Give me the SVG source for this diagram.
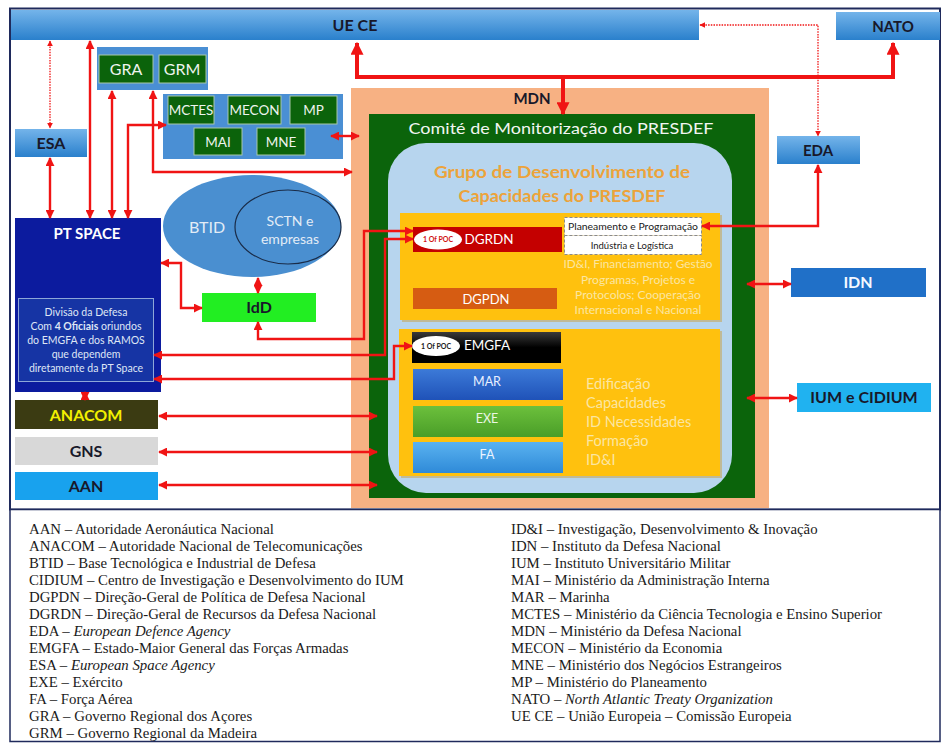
<svg xmlns="http://www.w3.org/2000/svg" width="942" height="745" viewBox="0 0 942 745">
<defs>
<linearGradient id="gBlue" x1="0" y1="0" x2="0" y2="1"><stop offset="0" stop-color="#74b4ea"/><stop offset="1" stop-color="#2a80cc"/></linearGradient>
<linearGradient id="gMar" x1="0" y1="0" x2="0" y2="1"><stop offset="0" stop-color="#3c7ad8"/><stop offset="1" stop-color="#1f52b8"/></linearGradient>
<linearGradient id="gExe" x1="0" y1="0" x2="0" y2="1"><stop offset="0" stop-color="#6cc03c"/><stop offset="1" stop-color="#4a9e28"/></linearGradient>
<linearGradient id="gFa" x1="0" y1="0" x2="0" y2="1"><stop offset="0" stop-color="#5ab2f0"/><stop offset="1" stop-color="#2e8ad8"/></linearGradient>
<linearGradient id="gBlack" x1="0" y1="0" x2="0" y2="1"><stop offset="0" stop-color="#3a3a3a"/><stop offset="0.5" stop-color="#000"/><stop offset="1" stop-color="#000"/></linearGradient>
<marker id="ah" viewBox="0 0 10 10" refX="9" refY="5" markerWidth="9" markerHeight="9" markerUnits="userSpaceOnUse" orient="auto-start-reverse"><path d="M0,0 L10,5 L0,10 z" fill="#f01414"/></marker>
<marker id="ahS" viewBox="0 0 10 10" refX="9" refY="5" markerWidth="6" markerHeight="6" markerUnits="userSpaceOnUse" orient="auto-start-reverse"><path d="M0,0 L10,5 L0,10 z" fill="#f01414"/></marker>
<marker id="ahB" viewBox="0 0 10 10" refX="9" refY="5" markerWidth="13" markerHeight="13" markerUnits="userSpaceOnUse" orient="auto-start-reverse"><path d="M0,0 L10,5 L0,10 z" fill="#f01414"/></marker>
</defs>
<style>
text{font-family:Lato,"Open Sans","Liberation Sans",sans-serif;}
.lbl{font-weight:bold;text-anchor:middle;fill:#18182a;}
.wt{text-anchor:middle;fill:#eef4ee;}
.gbox{fill:#0b630b;stroke:#a8c8a8;stroke-width:1;}
.con{fill:none;stroke:#f01414;stroke-width:2.4;marker-start:url(#ah);marker-end:url(#ah);}
.dot{fill:none;stroke:#f01414;stroke-width:1.3;stroke-dasharray:1.5 1.2;marker-start:url(#ahS);marker-end:url(#ahS);}
.thick{fill:none;stroke:#f01414;stroke-width:4;}
.leg{font-family:"Liberation Serif","Times New Roman",serif;font-size:14.8px;fill:#1a1a1a;}
.pale{fill:#fbe6a2;font-size:14.5px;}
.pale2{fill:#fbe6a2;font-size:12px;text-anchor:middle;}
</style>
<rect x="0" y="0" width="942" height="745" fill="#ffffff"/>
<rect id="frame" x="10" y="8.5" width="930" height="501" fill="#ffffff" stroke="#1f2a5c" stroke-width="2"/>
<rect id="legendframe" x="10" y="509.5" width="930" height="232" fill="#ffffff" stroke="#1f2a5c" stroke-width="1.5"/>

<g id="uece"><rect x="11" y="10" width="688" height="30" fill="url(#gBlue)"/><text class="lbl" x="355" y="31" font-size="16">UE CE</text></g>
<g id="nato"><rect x="836" y="12" width="104" height="28" fill="url(#gBlue)"/><text class="lbl" x="893" y="32" font-size="15">NATO</text></g>
<g id="esa"><rect x="15" y="129" width="72" height="28" fill="url(#gBlue)"/><text class="lbl" x="51" y="149" font-size="16">ESA</text></g>
<g id="eda"><rect x="777" y="136" width="83" height="28" fill="url(#gBlue)"/><text class="lbl" x="818" y="156" font-size="15">EDA</text></g>

<g id="gra-grm">
<rect x="97" y="47" width="111" height="43" fill="#4a8fd4"/>
<rect class="gbox" x="99" y="55" width="54" height="28"/><text class="wt" x="126" y="75" font-size="16">GRA</text>
<rect class="gbox" x="159" y="55" width="47" height="28"/><text class="wt" x="182" y="75" font-size="16">GRM</text>
</g>
<g id="ministerios">
<rect x="163" y="94" width="180" height="65" fill="#4a8fd4"/>
<rect class="gbox" x="168" y="96" width="46" height="28"/><text class="wt" x="191" y="115" font-size="13.5">MCTES</text>
<rect class="gbox" x="228" y="96" width="53" height="28"/><text class="wt" x="254.5" y="115" font-size="13.5">MECON</text>
<rect class="gbox" x="290" y="96" width="47" height="28"/><text class="wt" x="313.5" y="115" font-size="13.5">MP</text>
<rect class="gbox" x="194" y="128" width="48" height="27"/><text class="wt" x="218" y="147" font-size="13.5">MAI</text>
<rect class="gbox" x="257" y="128" width="48" height="27"/><text class="wt" x="281" y="147" font-size="13.5">MNE</text>
</g>

<g id="ptspace">
<rect x="15" y="218" width="146" height="174" fill="#0c1b9e"/>
<text x="87" y="239" font-size="15" font-weight="bold" fill="#ffffff" text-anchor="middle">PT SPACE</text>
<rect x="18.5" y="298.5" width="135" height="83" fill="#1634a4" stroke="#8ea6d8" stroke-width="1"/>
<g font-size="10.5" fill="#dfe6f5" text-anchor="middle">
<text x="86" y="316">Divisão da Defesa</text>
<text x="86" y="330">Com <tspan font-weight="bold">4 Oficiais</tspan> oriundos</text>
<text x="86" y="344">do EMGFA e dos RAMOS</text>
<text x="86" y="358">que dependem</text>
<text x="86" y="372">diretamente da PT Space</text>
</g>
</g>

<g id="btid">
<ellipse cx="252" cy="226" rx="89" ry="51" fill="#4a8fd0"/>
<ellipse cx="288" cy="227" rx="53" ry="37" fill="#4a8fd0" stroke="#1a2c48" stroke-width="1.2"/>
<text x="207" y="233" font-size="16" fill="#e2ecf6" text-anchor="middle">BTID</text>
<text x="290" y="226" font-size="14" fill="#e2ecf6" text-anchor="middle">SCTN e</text>
<text x="290" y="244" font-size="14" fill="#e2ecf6" text-anchor="middle">empresas</text>
</g>
<g id="idd"><rect x="202" y="293" width="114" height="29" fill="#22ee22"/><text class="lbl" x="259" y="313" font-size="16" fill="#101010">IdD</text></g>

<g id="anacom"><rect x="15" y="400" width="143" height="29" fill="#3b3b12"/><text x="86" y="421" font-size="16" font-weight="bold" fill="#f2f000" text-anchor="middle">ANACOM</text></g>
<g id="gns"><rect x="15" y="437" width="143" height="28" fill="#d8d8d8"/><text class="lbl" x="86" y="457" font-size="16">GNS</text></g>
<g id="aan"><rect x="15" y="472" width="143" height="28" fill="#18a2ee"/><text class="lbl" x="86" y="492" font-size="16">AAN</text></g>

<g id="mdn">
<rect x="351" y="88" width="418" height="420" fill="#f7b183"/>
<text class="lbl" x="532" y="104" font-size="15">MDN</text>
</g>
<g id="comite">
<rect x="369" y="114" width="386" height="384" fill="#0b640b"/>
<text x="561" y="134" font-size="16" fill="#f2f6f2" text-anchor="middle" textLength="305" lengthAdjust="spacingAndGlyphs">Comité de Monitorização do PRESDEF</text>
</g>
<g id="grupo">
<rect x="388" y="143" width="344" height="350" rx="38" ry="38" fill="#b7d5ee"/>
<text x="562" y="178" font-size="17" font-weight="bold" fill="#eca33a" text-anchor="middle" textLength="256" lengthAdjust="spacingAndGlyphs">Grupo de  Desenvolvimento de</text>
<text x="562" y="202" font-size="17" font-weight="bold" fill="#eca33a" text-anchor="middle" textLength="207" lengthAdjust="spacingAndGlyphs">Capacidades do PRESDEF</text>
</g>

<g id="bloco1">
<rect x="402" y="215" width="320" height="107" fill="#c9a040" opacity="0.5"/>
<rect x="400" y="213" width="320" height="107" fill="#ffc10e"/>
<g id="dgrdn">
<rect x="413" y="227" width="149" height="25" fill="#c40000"/>
<ellipse cx="438" cy="239.5" rx="24" ry="10" fill="#ffffff"/>
<text x="438" y="242" font-size="7" font-weight="bold" fill="#d01010" text-anchor="middle">1 Of POC</text>
<text x="489" y="244" font-size="13.5" fill="#ffffff" text-anchor="middle">DGRDN</text>
</g>
<g id="planeamento">
<rect x="564.5" y="217.5" width="137" height="18" fill="#ffffff" stroke="#8a8a8a" stroke-width="1" stroke-dasharray="3 2"/>
<text x="633" y="230" font-size="9.5" fill="#202020" text-anchor="middle" textLength="130" lengthAdjust="spacingAndGlyphs">Planeamento e Programação</text>
</g>
<g id="industria">
<rect x="564.5" y="235.5" width="137" height="19" fill="#ffffff" stroke="#8a8a8a" stroke-width="1" stroke-dasharray="3 2"/>
<text x="632" y="249" font-size="9.5" fill="#202020" text-anchor="middle">Indústria e Logística</text>
</g>
<text class="pale2" x="638" y="268" textLength="149" lengthAdjust="spacingAndGlyphs">ID&amp;I, Financiamento; Gestão</text>
<text class="pale2" x="638" y="284">Programas,  Projetos e</text>
<text class="pale2" x="638" y="299">Protocolos; Cooperação</text>
<text class="pale2" x="638" y="314">Internacional e Nacional</text>
<g id="dgpdn">
<rect x="413" y="288" width="144" height="21" fill="#d65c12"/>
<text x="486" y="303.5" font-size="13" fill="#ffffff" text-anchor="middle">DGPDN</text>
</g>
</g>

<g id="bloco2">
<rect x="401" y="331" width="321" height="147" fill="#c9a040" opacity="0.5"/>
<rect x="399" y="329" width="321" height="147" fill="#ffc10e"/>
<g id="emgfa">
<rect x="412" y="332" width="149" height="31" fill="url(#gBlack)"/>
<ellipse cx="436" cy="346" rx="24" ry="10" fill="#ffffff"/>
<text x="436" y="348.5" font-size="7" font-weight="bold" fill="#202020" text-anchor="middle">1 Of POC</text>
<text x="487" y="350" font-size="13.5" fill="#ffffff" text-anchor="middle">EMGFA</text>
</g>
<g id="mar"><rect x="413" y="369" width="150" height="31" fill="url(#gMar)"/><text x="487" y="386" font-size="12.5" fill="#e8f0ff" text-anchor="middle">MAR</text></g>
<g id="exe"><rect x="413" y="406" width="150" height="31" fill="url(#gExe)"/><text x="487" y="423" font-size="12.5" fill="#eaf6e4" text-anchor="middle">EXE</text></g>
<g id="fa"><rect x="413" y="442" width="150" height="31" fill="url(#gFa)"/><text x="487" y="459" font-size="12.5" fill="#eaf4ff" text-anchor="middle">FA</text></g>
<text class="pale" x="586" y="389">Edificação</text>
<text class="pale" x="586" y="408">Capacidades</text>
<text class="pale" x="586" y="427">ID Necessidades</text>
<text class="pale" x="586" y="446">Formação</text>
<text class="pale" x="586" y="465">ID&amp;I</text>
</g>

<g id="idn"><rect x="791" y="268" width="135" height="29" fill="#2070c8"/><text x="858" y="288" font-size="16" font-weight="bold" fill="#f4f8ff" text-anchor="middle">IDN</text></g>
<g id="ium"><rect x="797" y="383" width="134" height="29" fill="#20b2f0"/><text class="lbl" x="864" y="403" font-size="16">IUM e CIDIUM</text></g>

<g id="connectors">
<path class="dot" d="M50,41 V128"/>
<path class="dot" d="M700,25 H818 V136"/>
<path class="con" d="M50,158 V218"/>
<path class="con" d="M90,41 V218"/>
<path class="con" d="M112,91 V218"/>
<path class="con" d="M128,218 V125 H166"/>
<path class="con" d="M153,91 V172 H352"/>
<path class="con" d="M331,136 H359"/>
<path class="thick" d="M357,43 V77 H893 V43" style="marker-start:url(#ahB);marker-end:url(#ahB)"/>
<path class="thick" d="M563,77 V114" style="marker-end:url(#ahB)"/>
<path class="con" d="M818,165 V226 H702"/>
<path class="con" d="M161,263 H181 V308 H202"/>
<path class="con" d="M258,278 V293"/>
<path class="con" d="M258,322 V339 H364 V231 H413"/>
<path class="con" d="M154,355 H385 V239 H413"/>
<path class="con" d="M154,379 H394 V346 H412"/>
<path class="con" d="M85,392 V400"/>
<path class="con" d="M159,416 H377"/>
<path class="con" d="M159,452 H377"/>
<path class="con" d="M159,485 H377"/>
<path class="con" d="M747,284 H791"/>
<path class="con" d="M747,398 H797"/>
</g>

<g id="legend">
<text class="leg" x="29" y="534">AAN – Autoridade Aeronáutica Nacional</text>
<text class="leg" x="29" y="551">ANACOM – Autoridade Nacional de Telecomunicações</text>
<text class="leg" x="29" y="568">BTID – Base Tecnológica e Industrial de Defesa</text>
<text class="leg" x="29" y="585">CIDIUM – Centro de Investigação e Desenvolvimento do IUM</text>
<text class="leg" x="29" y="602">DGPDN – Direção-Geral de Política de Defesa Nacional</text>
<text class="leg" x="29" y="619">DGRDN – Direção-Geral de Recursos da Defesa Nacional</text>
<text class="leg" x="29" y="636">EDA – <tspan font-style="italic">European Defence Agency</tspan></text>
<text class="leg" x="29" y="653">EMGFA – Estado-Maior General das Forças Armadas</text>
<text class="leg" x="29" y="670">ESA – <tspan font-style="italic">European Space Agency</tspan></text>
<text class="leg" x="29" y="687">EXE – Exército</text>
<text class="leg" x="29" y="704">FA – Força Aérea</text>
<text class="leg" x="29" y="721">GRA – Governo Regional dos Açores</text>
<text class="leg" x="29" y="738">GRM – Governo Regional da Madeira</text>
<text class="leg" x="511" y="534">ID&amp;I – Investigação, Desenvolvimento &amp; Inovação</text>
<text class="leg" x="511" y="551">IDN – Instituto da Defesa Nacional</text>
<text class="leg" x="511" y="568">IUM – Instituto Universitário Militar</text>
<text class="leg" x="511" y="585">MAI – Ministério da Administração Interna</text>
<text class="leg" x="511" y="602">MAR – Marinha</text>
<text class="leg" x="511" y="619">MCTES – Ministério da Ciência Tecnologia e Ensino Superior</text>
<text class="leg" x="511" y="636">MDN – Ministério da Defesa Nacional</text>
<text class="leg" x="511" y="653">MECON – Ministério da Economia</text>
<text class="leg" x="511" y="670">MNE – Ministério dos Negócios Estrangeiros</text>
<text class="leg" x="511" y="687">MP – Ministério do Planeamento</text>
<text class="leg" x="511" y="704">NATO – <tspan font-style="italic">North Atlantic Treaty Organization</tspan></text>
<text class="leg" x="511" y="721">UE CE – União Europeia – Comissão Europeia</text>
</g>
</svg>
